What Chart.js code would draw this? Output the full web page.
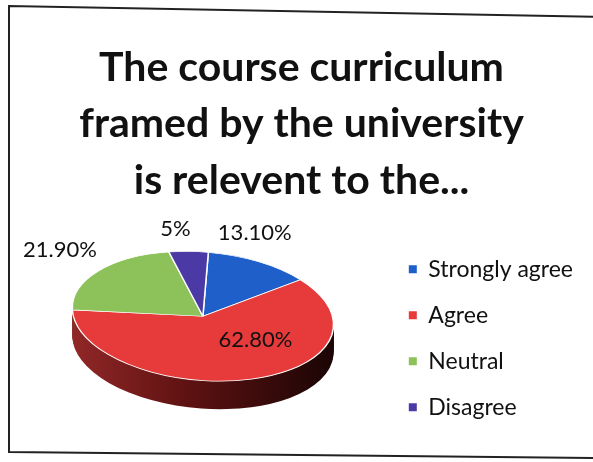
<!DOCTYPE html>
<html><head><meta charset="utf-8">
<script src="https://cdn.jsdelivr.net/npm/chart.js@4"></script>
<style>html,body{margin:0;padding:0;background:#fff}#wrap{width:593px;height:462px;position:relative}</style>
</head><body><div id="wrap"><canvas id="c" width="593" height="462"></canvas></div>
<script>
const titleLines = ['The course curriculum', 'framed by the university', 'is relevent to the...'];
const categories = ['Strongly agree', 'Agree', 'Neutral', 'Disagree'];
const values = [13.1, 62.8, 21.9, 5];
const valueLabels = ['13.10%', '62.80%', '21.90%', '5%'];
const colors = ['#1f5fca', '#e63b3a', '#8dc25a', '#4b3aa6'];
const sideColors = ['#0c2d66', '#8a1a1a', '#4a6a2a', '#241a55'];

// presentation settings (not data)
const view3d = { squash: 0.49, depth: 28, tilt: 0.085 };
const labelNudge = [[-4, -29], [4, -39], [-38, -21], [-13, -22]];

const frame = {
  id: 'frame',
  beforeDraw(chart) {
    const ctx = chart.ctx;
    ctx.save();
    ctx.strokeStyle = '#222';
    ctx.lineWidth = 2;
    ctx.beginPath();
    ctx.moveTo(600, 17); ctx.lineTo(9, 6); ctx.lineTo(9, 452); ctx.lineTo(600, 458);
    ctx.stroke();
    ctx.restore();
  }
};

function applyView(ctx, cx, cy, dy) {
  ctx.translate(cx, cy + dy);
  ctx.rotate(view3d.tilt);
  ctx.scale(1, view3d.squash);
  ctx.translate(-cx, -cy);
}

const pie3d = {
  id: 'pie3d',
  beforeDatasetsDraw(chart) {
    const ctx = chart.ctx;
    const meta = chart.getDatasetMeta(0);
    const a0 = meta.data[0];
    const cx = a0.x, cy = a0.y, r = a0.outerRadius;
    const top = -view3d.depth / 2;
    for (let d = view3d.depth; d >= 1; d--) {
      ctx.save();
      applyView(ctx, cx, cy, top + d);
      meta.data.forEach((arc, i) => {
        let fill = sideColors[i];
        if (i === 1) {
          const g = ctx.createLinearGradient(cx - r, 0, cx + r, 0);
          g.addColorStop(0, '#922828');
          g.addColorStop(0.45, '#601212');
          g.addColorStop(1, '#1c0505');
          fill = g;
        }
        const fake = Object.create(arc);
        fake.options = Object.assign({}, arc.options, { backgroundColor: fill, borderWidth: 0 });
        arc.draw.call(fake, ctx);
      });
      ctx.restore();
    }
    ctx.save();
    applyView(ctx, cx, cy, top);
  },
  afterDatasetsDraw(chart) {
    const ctx = chart.ctx;
    ctx.restore();
    const meta = chart.getDatasetMeta(0);
    ctx.save();
    ctx.font = '22px Lato';
    ctx.fillStyle = '#111';
    ctx.textAlign = 'center';
    ctx.textBaseline = 'middle';
    const c = Math.cos(view3d.tilt), s = Math.sin(view3d.tilt);
    meta.data.forEach((arc, i) => {
      const mid = (arc.startAngle + arc.endAngle) / 2;
      const lx = arc.outerRadius * Math.cos(mid);
      const ly = arc.outerRadius * Math.sin(mid) * view3d.squash;
      const x = arc.x + lx * c - ly * s + labelNudge[i][0];
      const y = arc.y - view3d.depth / 2 + lx * s + ly * c + labelNudge[i][1];
      ctx.fillText(valueLabels[i], x, y);
    });
    ctx.restore();
  }
};

new Chart(document.getElementById('c'), {
  type: 'pie',
  data: {
    labels: categories,
    datasets: [{
      data: values,
      backgroundColor: colors,
      borderColor: '#ffffff',
      borderWidth: 1.5,
      clip: false
    }]
  },
  options: {
    responsive: false,
    animation: false,
    devicePixelRatio: 1,
    radius: 131,
    layout: { padding: { left: 20, right: 10, top: 0, bottom: 10 } },
    plugins: {
      tooltip: { enabled: false },
      title: {
        display: true,
        text: titleLines,
        color: '#111',
        font: { family: 'Lato', weight: 'bold', size: 41, lineHeight: 1.37 },
        padding: { top: 40, bottom: 0 }
      },
      legend: {
        position: 'right',
        fullSize: false,
        title: { display: true, text: '', font: { size: 16, lineHeight: 1 }, padding: 0 },
        labels: {
          boxWidth: 8,
          boxHeight: 8,
          padding: 23,
          color: '#111',
          font: { family: 'Lato', size: 23 },
          generateLabels: () => categories.map((c, i) => ({
            text: c, fillStyle: colors[i], strokeStyle: colors[i], lineWidth: 0, hidden: false, index: i, fontColor: '#111'
          }))
        }
      }
    }
  },
  plugins: [frame, pie3d]
});
</script></body></html>
